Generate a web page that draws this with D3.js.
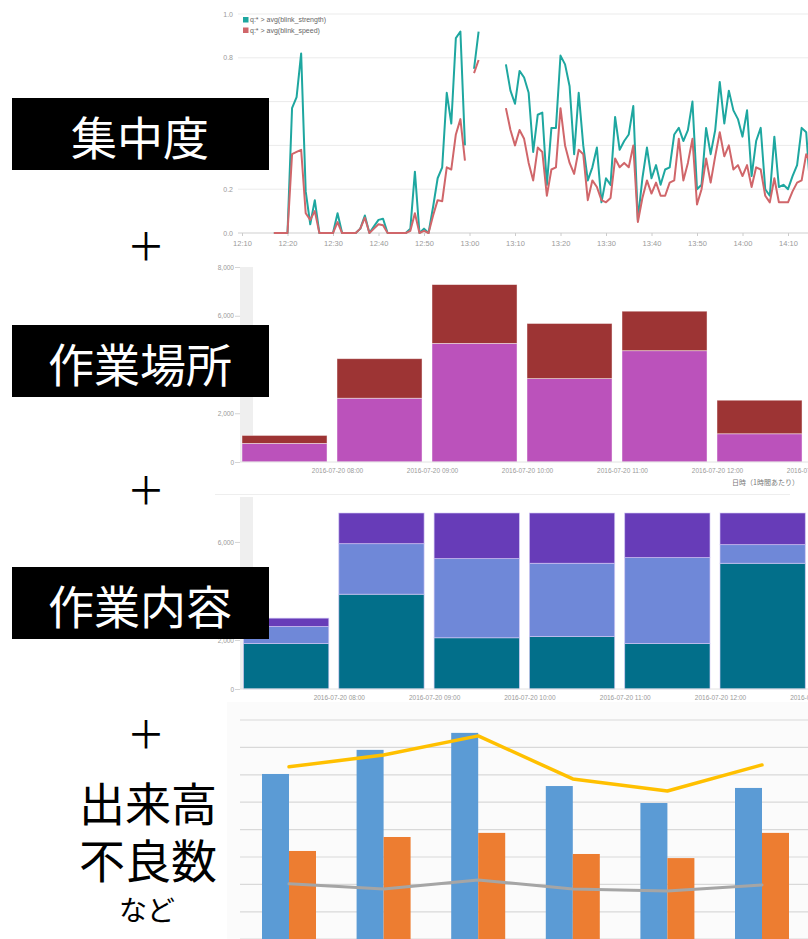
<!DOCTYPE html>
<html>
<head>
<meta charset="utf-8">
<script src="https://cdn.jsdelivr.net/npm/d3@7"></script>
<style>
  body { margin: 0; background: #fff; }
  svg { display: block; }
  text { font-family: "Liberation Sans", Arial, sans-serif; }
  .jp { font-family: "Noto Sans CJK JP", sans-serif; }
</style>
</head>
<body>
<svg id="fig" width="808" height="939"></svg>
<script>
/* blink data, one value per minute from blinkStart (null = no data) */
const blinkStart = '2016-07-20 12:17'
const blinkStrength = [
  0, 0, 0, 0, 0.57, 0.62, 0.82, 0.19, 0.04, 0.15,
  0, 0, 0, 0, 0.09, 0, 0, 0, 0, 0.02,
  0.08, 0, 0.03, 0.06, 0.065, 0, 0, 0, 0, 0,
  0.02, 0.28, 0, 0.02, 0, 0.12, 0.25, 0.3, 0.64, 0.5,
  0.89, 0.92, 0.4, null, 0.75, 0.92, null, null, null, null,
  null, 0.77, 0.65, 0.59, 0.74, 0.71, 0.64, 0.37, 0.54, 0.55,
  0.22, 0.48, 0.48, 0.81, 0.77, 0.67, 0.36, 0.64, 0.40, 0.24,
  0.30, 0.39, 0.14, 0.25, 0.22, 0.53, 0.38, 0.42, 0.45, 0.58,
  0.06, 0.25, 0.39, 0.25, 0.31, 0.22, 0.29, 0.30, 0.45, 0.48,
  0.42, 0.47, 0.60, 0.20, 0.22, 0.48, 0.36, 0.47, 0.69, 0.50,
  0.65, 0.56, 0.52, 0.44, 0.56, 0.26, 0.42, 0.48, 0.20, 0.17,
  0.44, 0.21, 0.22, 0.20, 0.26, 0.31, 0.48, 0.46, 0.17
]
const blinkSpeed = [
  0, 0, 0, 0, 0.36, 0.37, 0.38, 0.09, 0.06, 0.10,
  0, 0, 0, 0, 0.05, 0, 0, 0, 0, 0.02,
  0.07, 0, 0.02, 0.04, 0.035, 0, 0, 0, 0, 0,
  0.01, 0.09, 0, 0.01, 0, 0.08, 0.15, 0.145, 0.30, 0.29,
  0.45, 0.52, 0.33, null, 0.73, 0.79, null, null, null, null,
  null, 0.57, 0.47, 0.40, 0.47, 0.43, 0.32, 0.24, 0.39, 0.37,
  0.17, 0.29, 0.30, 0.57, 0.40, 0.32, 0.27, 0.38, 0.36, 0.15,
  0.24, 0.21, 0.15, 0.14, 0.16, 0.34, 0.30, 0.32, 0.30, 0.40,
  0.05, 0.16, 0.24, 0.18, 0.23, 0.17, 0.17, 0.23, 0.24, 0.43,
  0.24, 0.32, 0.43, 0.13, 0.20, 0.34, 0.23, 0.35, 0.46, 0.35,
  0.40, 0.29, 0.31, 0.26, 0.31, 0.21, 0.30, 0.29, 0.17, 0.14,
  0.25, 0.14, 0.14, 0.14, 0.19, 0.23, 0.24, 0.36, 0.32
]
const blinkLegend = ['q:* > avg(blink_strength)', 'q:* > avg(blink_speed)']
const blinkYTicks = [0, 0.2, 0.4, 0.6, 0.8, 1.0]

/* hourly bins */
const hours = ['2016-07-20 07:00', '2016-07-20 08:00', '2016-07-20 09:00',
  '2016-07-20 10:00', '2016-07-20 11:00', '2016-07-20 12:00']
const hourTicks = ['2016-07-20 08:00', '2016-07-20 09:00', '2016-07-20 10:00',
  '2016-07-20 11:00', '2016-07-20 12:00', '2016-07-20 13:00']

/* work place (作業場所) */
const placeA = [763, 2617, 4865, 3421, 4566, 1158]
const placeB = [327, 1621, 2413, 2262, 1621, 1377]
const placeYTicks = [0, 2000, 4000, 6000, 8000]
const placeAxisTitle = '日時（1時間あたり）'

/* work content (作業内容) */
const taskA = [1859, 3867, 2090, 2144, 1859, 5129]
const taskB = [692, 2062, 3229, 2985, 3501, 760]
const taskC = [339, 1800, 2600, 2700, 2400, 1900]
const taskYTicks = [0, 2000, 4000, 6000]

/* output / defects */
const lots = ['1', '2', '3', '4', '5', '6']
const outputQty = [803, 891, 953, 759, 697, 752]
const defectQty = [522, 573, 588, 511, 496, 588]
const lineYellow = [829, 872, 942, 785, 741, 836]
const lineGray = [402, 383, 416, 383, 376, 398]
const outGrid = [100, 200, 300, 400, 500, 600, 700, 800, 900, 1000]

const labels = ['集中度', '作業場所', '作業内容']
const bottomLabels = ['出来高', '不良数']

const parse = d3.timeParse('%Y-%m-%d %H:%M')
const svg = d3.select('#fig')

/* ---------- 1. blink line chart ---------- */
const g1 = svg.append('g')
const x1 = d3.scaleTime()
  .domain([parse('2016-07-20 12:10'), parse('2016-07-20 14:10')])
  .range([242, 788])
const y1 = d3.scaleLinear().domain([0, 1]).range([233, 14])

g1.selectAll('line.grid')
  .data(blinkYTicks)
  .enter().append('line')
  .attr('x1', 238).attr('x2', 808)
  .attr('y1', d => y1(d)).attr('y2', d => y1(d))
  .attr('stroke', d => d === 0 ? '#cfcfcf' : '#ebebeb')

g1.selectAll('text.ytick')
  .data(blinkYTicks)
  .enter().append('text')
  .attr('x', 233).attr('y', d => y1(d) + 2.5)
  .attr('text-anchor', 'end')
  .attr('font-size', 7).attr('fill', '#9a9a9a')
  .text(d3.format('.1f'))

const xAxis1 = g1.append('g')
  .attr('transform', `translate(0,${y1(0)})`)
  .call(d3.axisBottom(x1).ticks(d3.timeMinute.every(10)).tickFormat(d3.timeFormat('%H:%M')).tickSize(3))
xAxis1.select('.domain').remove()
xAxis1.selectAll('line').attr('stroke', '#ccc')
xAxis1.selectAll('text').attr('font-size', 7.5).attr('fill', '#9a9a9a').attr('dy', '0.9em')

const t0 = parse(blinkStart)
const toPoints = arr => arr.map((v, i) => ({ t: d3.timeMinute.offset(t0, i), v }))
const line1 = d3.line()
  .defined(d => d.v != null)
  .x(d => x1(d.t))
  .y(d => y1(d.v))

const blinkSeries = [
  { name: blinkLegend[0], color: '#1ea7a0', pts: toPoints(blinkStrength) },
  { name: blinkLegend[1], color: '#d0666a', pts: toPoints(blinkSpeed) }
]
g1.selectAll('path.blink')
  .data(blinkSeries)
  .enter().append('path')
  .attr('fill', 'none')
  .attr('stroke', d => d.color)
  .attr('stroke-width', 2)
  .attr('stroke-linejoin', 'round')
  .attr('d', d => line1(d.pts))

const leg = g1.selectAll('g.leg')
  .data(blinkSeries)
  .enter().append('g')
  .attr('transform', (d, i) => `translate(243,${17 + i * 10.5})`)
leg.append('rect').attr('width', 5.5).attr('height', 5.5).attr('fill', d => d.color)
leg.append('text').attr('x', 7).attr('y', 5.3)
  .attr('font-size', 7).attr('fill', '#666').text(d => d.name)

/* ---------- stacked hourly bar chart helper ---------- */
const drawHourBars = (cfg) => {
  const g = svg.append('g')
  const x = d3.scaleTime()
    .domain([parse(hours[0]), parse(hours[5])])
    .range(cfg.xRange)
  const y = d3.scaleLinear().domain(cfg.yDomain).range(cfg.yRange).clamp(true)

  g.append('rect')
    .attr('x', 240).attr('width', 13)
    .attr('y', cfg.bandTop).attr('height', y(0) - cfg.bandTop)
    .attr('fill', '#efefef')

  const rows = hours.map((h, i) => {
    const row = { t: parse(h) }
    cfg.keys.forEach((k, j) => (row[k] = cfg.series[j][i]))
    return row
  })
  const stacked = d3.stack().keys(cfg.keys)(rows)

  g.selectAll('g.layer')
    .data(stacked)
    .enter().append('g')
    .attr('fill', (d, i) => cfg.colors[i])
    .selectAll('rect')
    .data(d => d)
    .enter().append('rect')
    .attr('x', d => x(d.data.t))
    .attr('width', d => (x(d3.timeHour.offset(d.data.t, 1)) - x(d.data.t)) * 0.895)
    .attr('y', d => y(d[1]))
    .attr('height', d => y(d[0]) - y(d[1]))
    .attr('stroke', cfg.stroke)
    .attr('stroke-width', 0.8)

  const ya = g.append('g')
    .attr('transform', 'translate(240,0)')
    .call(d3.axisLeft(y).tickValues(cfg.yTicks).tickFormat(d3.format(',')).tickSize(5))
  ya.select('.domain').remove()
  ya.selectAll('line').attr('stroke', '#d5d5d5')
  ya.selectAll('text').attr('font-size', 6.5).attr('fill', '#9a9a9a').attr('x', -6)

  const xa = g.append('g')
    .attr('transform', `translate(0,${y(0)})`)
    .call(d3.axisBottom(x).tickValues(hourTicks.map(parse))
      .tickFormat(d3.timeFormat('%Y-%m-%d %H:%M')).tickSize(0))
  xa.select('.domain').attr('stroke', '#e2e2e2').attr('d', `M240,0H808`)
  xa.selectAll('text').attr('font-size', 6.5).attr('fill', '#9a9a9a').attr('dy', '1.25em')
  return g
}

/* ---------- 2. work place ---------- */
const g2 = drawHourBars({
  keys: ['a', 'b'],
  series: [placeA, placeB],
  colors: ['#bb52bb', '#9d3434'],
  stroke: 'rgba(255,255,255,0.55)',
  xRange: [242, 717],
  yDomain: [0, 8000],
  yRange: [462, 267],
  bandTop: 267,
  yTicks: placeYTicks
})
g2.append('text')
  .attr('class', 'jp')
  .attr('x', 799).attr('y', 485)
  .attr('text-anchor', 'end')
  .attr('font-size', 7).attr('fill', '#777')
  .text(placeAxisTitle)

svg.append('line')
  .attr('x1', 215).attr('x2', 790)
  .attr('y1', 494.5).attr('y2', 494.5)
  .attr('stroke', '#eeeeee')

/* ---------- 3. work content ---------- */
drawHourBars({
  keys: ['a', 'b', 'c'],
  series: [taskA, taskB, taskC],
  colors: ['#026f8a', '#6f88d8', '#673cb8'],
  stroke: 'rgba(210,200,245,0.8)',
  xRange: [243.5, 720],
  yDomain: [0, 7180],
  yRange: [689, 513],
  bandTop: 497,
  yTicks: taskYTicks
})

/* ---------- 4. output & defects ---------- */
const g4 = svg.append('g')
g4.append('rect')
  .attr('x', 227).attr('y', 702).attr('width', 581).attr('height', 237)
  .attr('fill', '#fbfbfb')

const x4 = d3.scaleBand().domain(lots).range([241.7, 809.3])
const x4s = d3.scaleBand().domain(['out', 'def']).range([0, 54])
const y4 = d3.scaleLinear().domain([0, 1000]).range([994, 720])
const cx = d => x4(d) + x4.bandwidth() / 2

g4.selectAll('line.grid')
  .data(outGrid)
  .enter().append('line')
  .attr('x1', 240).attr('x2', 808)
  .attr('y1', d => y4(d)).attr('y2', d => y4(d))
  .attr('stroke', '#d9d9d9').attr('stroke-width', 1.2)

const barSeries = [
  { key: 'out', color: '#5b9bd5', vals: outputQty },
  { key: 'def', color: '#ed7d31', vals: defectQty }
]
g4.selectAll('g.bars')
  .data(barSeries)
  .enter().append('g')
  .attr('fill', d => d.color)
  .selectAll('rect')
  .data(d => d.vals.map((v, i) => ({ lot: lots[i], key: d.key, v })))
  .enter().append('rect')
  .attr('x', d => cx(d.lot) - 27 + x4s(d.key))
  .attr('width', x4s.bandwidth())
  .attr('y', d => y4(d.v))
  .attr('height', d => y4(0) - y4(d.v))

const line4 = d3.line().x((d, i) => cx(lots[i])).y(d => y4(d))
g4.selectAll('path.l4')
  .data([{ vals: lineGray, color: '#a5a5a5', w: 3 }, { vals: lineYellow, color: '#ffc000', w: 3.5 }])
  .enter().append('path')
  .attr('fill', 'none')
  .attr('stroke', d => d.color)
  .attr('stroke-width', d => d.w)
  .attr('stroke-linecap', 'round')
  .attr('stroke-linejoin', 'round')
  .attr('d', d => line4(d.vals))

/* ---------- labels on the left ---------- */
const boxTops = [98, 325, 567]
const boxes = svg.selectAll('g.box')
  .data(labels)
  .enter().append('g')
  .attr('transform', (d, i) => `translate(12,${boxTops[i]})`)
boxes.append('rect').attr('width', 257).attr('height', 72).attr('fill', '#000')
boxes.append('text')
  .attr('class', 'jp')
  .attr('x', 128).attr('y', 37)
  .attr('text-anchor', 'middle')
  .attr('dominant-baseline', 'central')
  .attr('font-size', 46)
  .attr('fill', '#fff')
  .text(d => d)

svg.selectAll('text.plus')
  .data([243, 487, 731])
  .enter().append('text')
  .attr('class', 'jp')
  .attr('x', 146).attr('y', d => d)
  .attr('text-anchor', 'middle')
  .attr('dominant-baseline', 'central')
  .attr('font-size', 38)
  .attr('fill', '#000')
  .text('＋')

svg.selectAll('text.bottom')
  .data(bottomLabels)
  .enter().append('text')
  .attr('class', 'jp')
  .attr('x', 148).attr('y', (d, i) => 801 + i * 57)
  .attr('text-anchor', 'middle')
  .attr('dominant-baseline', 'central')
  .attr('font-size', 46)
  .attr('fill', '#000')
  .text(d => d)

svg.append('text')
  .attr('class', 'jp')
  .attr('x', 147).attr('y', 909)
  .attr('text-anchor', 'middle')
  .attr('dominant-baseline', 'central')
  .attr('font-size', 28)
  .attr('fill', '#000')
  .text('など')
</script>
</body>
</html>
